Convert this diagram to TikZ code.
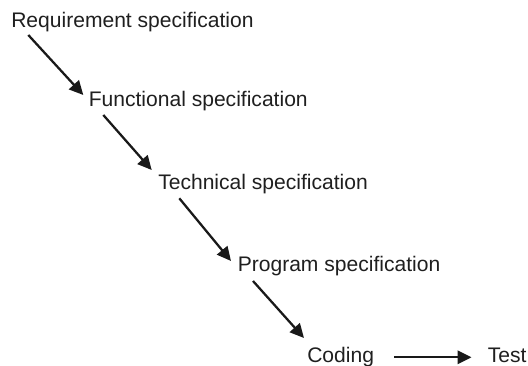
\documentclass[tikz,border=0pt]{standalone}
\usepackage{fontspec}
\setmainfont{Liberation Sans}
\usetikzlibrary{arrows.meta,calc}
\tikzstyle{stage}=[anchor=base west, inner sep=0pt, text=black!88, font=\fontsize{15.8}{18}\selectfont]
\tikzstyle{flow}=[draw=black!90, line width=1.7pt, -{Triangle[length=10.5pt,width=10pt]}]

\begin{document}
\begin{tikzpicture}[x=0.75pt, y=-0.75pt]
      \useasboundingbox (0,0) rectangle (528,366);
      \node[stage] (req) at (11,27.3) {Requirement specification};
      \node[stage] (func) at (88.5,106.7) {Functional specification};
      \node[stage] (tech) at (158,190) {Technical specification};
      \node[stage] (prog) at (237.5,272) {Program specification};
      \node[stage] (cod) at (307,363) {Coding};
      \node[stage] (test) at (487.5,363) {Test};
      \draw[flow] ([shift={(17.3,7.7)}]req.base west) -- ([shift={(-5.2,-11.7)}]func.base west);
      \draw[flow] ([shift={(14.8,8.3)}]func.base west) -- ([shift={(-6.3,-20)}]tech.base west);
      \draw[flow] ([shift={(21.3,8.3)}]tech.base west) -- ([shift={(-6.5,-11)}]prog.base west);
      \draw[flow] ([shift={(15.5,9)}]prog.base west) -- ([shift={(-3,-25)}]cod.base west);
      \draw[flow] ([shift={(20,-5.7)}]cod.base east) -- ([shift={(-16,-5.7)}]test.base west);
\end{tikzpicture}
\end{document}
